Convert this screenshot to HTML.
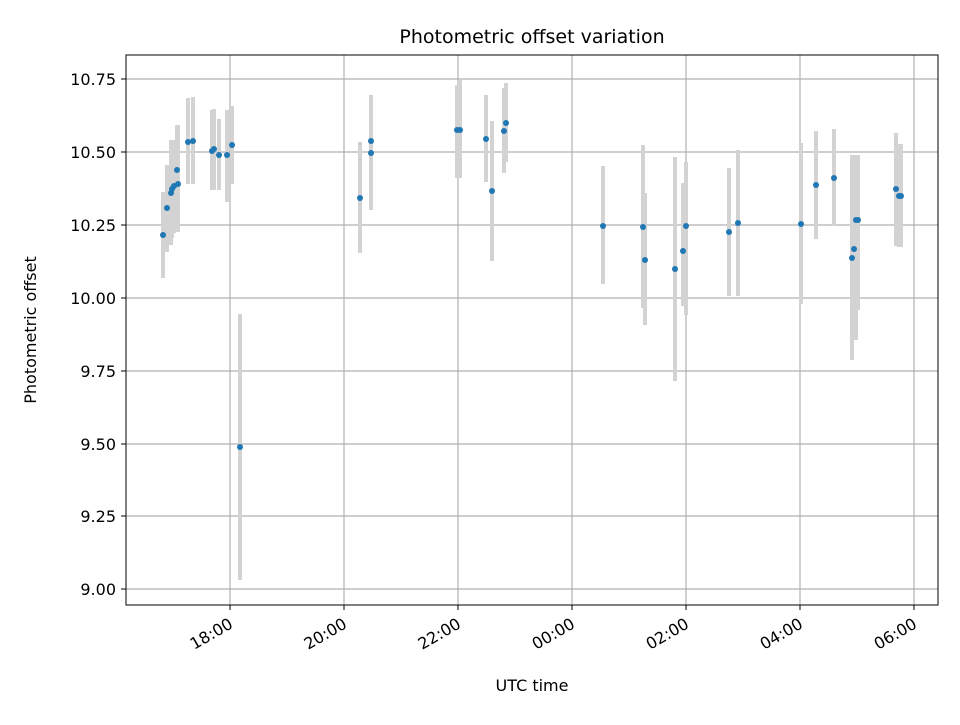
<!DOCTYPE html>
<html><head><meta charset="utf-8"><style>
body{margin:0;background:#fff}
text{font-family:"DejaVu Sans","Liberation Sans",sans-serif;fill:#000}
</style></head><body>
<svg width="960" height="720" xmlns="http://www.w3.org/2000/svg">
<rect width="960" height="720" fill="#fff"/>
<g stroke="#b0b0b0" stroke-width="1.2">
<line x1="126" x2="938" y1="79" y2="79"/><line x1="126" x2="938" y1="152" y2="152"/>
<line x1="126" x2="938" y1="225" y2="225"/><line x1="126" x2="938" y1="298" y2="298"/>
<line x1="126" x2="938" y1="371" y2="371"/><line x1="126" x2="938" y1="444" y2="444"/>
<line x1="126" x2="938" y1="516" y2="516"/><line x1="126" x2="938" y1="589" y2="589"/>
<line y1="55" y2="605" x1="230" x2="230"/><line y1="55" y2="605" x1="344" x2="344"/>
<line y1="55" y2="605" x1="458" x2="458"/><line y1="55" y2="605" x1="572" x2="572"/>
<line y1="55" y2="605" x1="686" x2="686"/><line y1="55" y2="605" x1="800" x2="800"/>
<line y1="55" y2="605" x1="914" x2="914"/>
</g>
<g stroke="#d3d3d3" stroke-width="4" id="eb"></g>
<g fill="#1f77b4" id="pts"></g>
<rect x="126" y="55" width="812" height="550" fill="none" stroke="#000" stroke-width="1"/>
<g stroke="#000">
<line x1="121" x2="126" y1="79" y2="79"/><line x1="121" x2="126" y1="152" y2="152"/>
<line x1="121" x2="126" y1="225" y2="225"/><line x1="121" x2="126" y1="298" y2="298"/>
<line x1="121" x2="126" y1="371" y2="371"/><line x1="121" x2="126" y1="444" y2="444"/>
<line x1="121" x2="126" y1="516" y2="516"/><line x1="121" x2="126" y1="589" y2="589"/>
<line y1="605" y2="610" x1="230" x2="230"/><line y1="605" y2="610" x1="344" x2="344"/>
<line y1="605" y2="610" x1="458" x2="458"/><line y1="605" y2="610" x1="572" x2="572"/>
<line y1="605" y2="610" x1="686" x2="686"/><line y1="605" y2="610" x1="800" x2="800"/>
<line y1="605" y2="610" x1="914" x2="914"/>
</g>
<g font-size="16" text-anchor="end">
<text x="116" y="85">10.75</text><text x="116" y="158">10.50</text>
<text x="116" y="231">10.25</text><text x="116" y="304">10.00</text>
<text x="116" y="377">9.75</text><text x="116" y="450">9.50</text>
<text x="116" y="522">9.25</text><text x="116" y="595">9.00</text>
</g>
<g font-size="16" text-anchor="end">
<text transform="translate(234,627) rotate(-30)">18:00</text>
<text transform="translate(348,627) rotate(-30)">20:00</text>
<text transform="translate(462,627) rotate(-30)">22:00</text>
<text transform="translate(576,627) rotate(-30)">00:00</text>
<text transform="translate(690,627) rotate(-30)">02:00</text>
<text transform="translate(804,627) rotate(-30)">04:00</text>
<text transform="translate(918,627) rotate(-30)">06:00</text>
</g>
<text x="532" y="43" font-size="19" text-anchor="middle">Photometric offset variation</text>
<text x="532" y="691" font-size="16" text-anchor="middle">UTC time</text>
<text transform="translate(36,330) rotate(-90)" font-size="16" text-anchor="middle">Photometric offset</text>
</svg>
<script>
var d=[[163,235,192,278],[167,208,165,252],[171,193,140,245],[172,189,140,238],[174,186,140,233],[177,170,125,232],[178,184,125,232],[188,142,98,184],[193,141,97,184],[212,151,110,190],[214,149,109,190],[219,155,119,190],[227,155,110,202],[232,145,106,184],[240,447,314,580],[360,198,142,253],[371,153,95,210],[371,141,95,210],[457,130,85,178],[460,130,80,178],[486,139,95,182],[492,191,121,261],[504,131,88,173],[506,123,83,162],[603,226,166,284],[643,227,145,308],[645,260,193,325],[675,269,157,381],[683,251,183,306],[686,226,162,315],[729,232,168,296],[738,223,150,296],[801,224,143,304],[816,185,131,239],[834,178,129,226],[852,258,155,360],[854,249,155,327],[856,220,155,340],[858,220,155,310],[896,189,133,246],[899,196,144,247],[901,196,144,247]];
var ns="http://www.w3.org/2000/svg",eb=document.getElementById("eb"),p=document.getElementById("pts");
d.forEach(function(a){var l=document.createElementNS(ns,"line");l.setAttribute("x1",a[0]);l.setAttribute("x2",a[0]);l.setAttribute("y1",a[2]);l.setAttribute("y2",a[3]);eb.appendChild(l);
var c=document.createElementNS(ns,"circle");c.setAttribute("cx",a[0]);c.setAttribute("cy",a[1]);c.setAttribute("r",3);p.appendChild(c);});
</script>
</body></html>
